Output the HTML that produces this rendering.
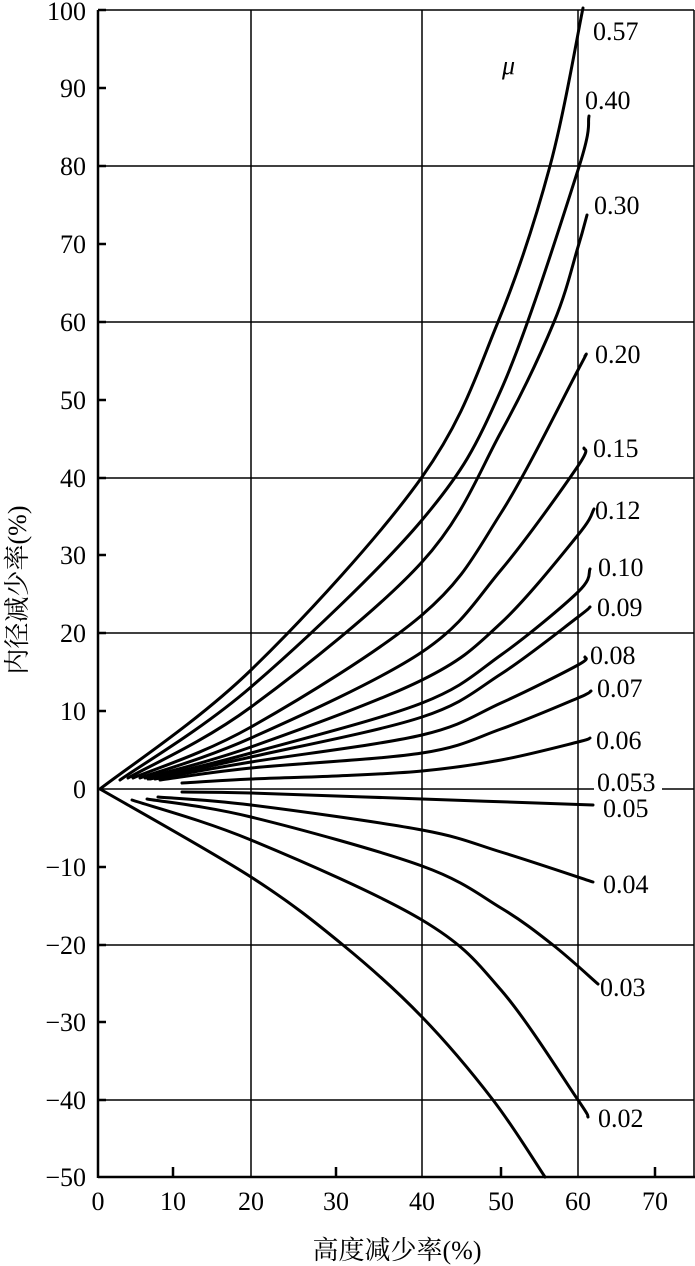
<!DOCTYPE html>
<html><head><meta charset="utf-8"><style>
body{margin:0;background:#fff}
svg{display:block}
text{font-family:"Liberation Serif","Noto Serif CJK SC",serif;font-size:26px;fill:#000}
</style></head><body>
<svg width="695" height="1266" viewBox="0 0 695 1266" xmlns="http://www.w3.org/2000/svg">
<g stroke="#000" stroke-width="1.5" fill="none">
<line x1="100" y1="10" x2="694" y2="10"/>
<line x1="100" y1="166" x2="694" y2="166"/>
<line x1="100" y1="322" x2="694" y2="322"/>
<line x1="100" y1="478" x2="694" y2="478"/>
<line x1="100" y1="633" x2="694" y2="633"/>
<line x1="100" y1="789" x2="694" y2="789"/>
<line x1="100" y1="945" x2="694" y2="945"/>
<line x1="100" y1="1100" x2="694" y2="1100"/>
<line x1="251" y1="10" x2="251" y2="1177"/>
<line x1="422" y1="10" x2="422" y2="1177"/>
<line x1="578" y1="10" x2="578" y2="1177"/>
<line x1="694" y1="10" x2="694" y2="1177"/>
</g>
<g stroke="#000" stroke-width="2.5" fill="none">
<line x1="98" y1="10" x2="98" y2="1178"/>
<line x1="98" y1="1177" x2="695" y2="1177"/>
<path d="M98 88h8M98 244h8M98 400h8M98 555h8M98 711h8M98 867h8M98 1022h8M98 10h8M98 166h8M98 322h8M98 478h8M98 633h8M98 945h8M98 1100h8M173 1177v-10M336 1177v-10M501 1177v-10M655 1177v-10"/>
</g>
<g id="curves" stroke="#000" stroke-width="3" fill="none" stroke-linejoin="round" stroke-linecap="round">
<polyline points="100,789 251,670 422,477 498,322 550,166 583,8"/>
<polyline points="120,780 251,687 422,520 501,390 578,170 589,116"/>
<polyline points="128,778 251,707 422,562 501,432 554,322 578,247 587,215"/>
<polyline points="133,778 251,727 422,615 501,513 578,370 585,356"/>
<polyline points="140,778 251,738 422,652 501,570 578,466 584,448"/>
<polyline points="145,778 251,747 422,680 501,623 578,535 594,509"/>
<polyline points="148,779 251,753 422,703 501,655 578,592 590,569"/>
<polyline points="150,779 251,757 422,717 501,674 578,617 590,607"/>
<polyline points="155,779 251,762 422,735 501,703 578,665 585,657"/>
<polyline points="160,780 251,768 422,753 501,729 578,698 591,691"/>
<polyline points="182,783 251,779 336,776 422,771 501,760 578,742 590,738"/>
<polyline points="182,792 251,793 422,799 593,805"/>
<polyline points="158,797 251,805 422,830 501,852 593,882"/>
<polyline points="147,799 251,817 422,866 501,908 553,945 598,984"/>
<polyline points="132,800 251,840 422,920 501,990 578,1100 588,1117"/>
<polyline points="100,789 251,877 343,945 422,1017 493,1100 545,1177"/>
</g>
<g text-anchor="end">
<text x="86" y="20">100</text><text x="86" y="97">90</text><text x="86" y="175">80</text><text x="86" y="253">70</text><text x="86" y="331">60</text><text x="86" y="409">50</text><text x="86" y="487">40</text><text x="86" y="564">30</text><text x="86" y="642">20</text><text x="86" y="720">10</text><text x="86" y="798">0</text><text x="86" y="876">−10</text><text x="86" y="954">−20</text><text x="86" y="1031">−30</text><text x="86" y="1109">−40</text><text x="86" y="1186">−50</text>
</g>
<g text-anchor="middle">
<text x="98" y="1210">0</text><text x="173" y="1210">10</text><text x="251" y="1210">20</text><text x="336" y="1210">30</text><text x="422" y="1210">40</text><text x="501" y="1210">50</text><text x="578" y="1210">60</text><text x="655" y="1210">70</text>
<text x="397" y="1259">高度减少率(%)</text>
</g>
<text transform="translate(26,590) rotate(-90)" text-anchor="middle">内径减少率(%)</text>
<text x="502" y="74" font-style="italic" font-size="22">μ</text>
<rect x="594" y="776" width="68" height="22" fill="#fff"/>
<g>
<text x="593" y="40">0.57</text><text x="585" y="109">0.40</text><text x="594" y="214">0.30</text><text x="595" y="363">0.20</text><text x="593" y="457">0.15</text><text x="595" y="519">0.12</text><text x="598" y="576">0.10</text><text x="597" y="616">0.09</text><text x="590" y="664">0.08</text><text x="597" y="697">0.07</text><text x="596" y="749">0.06</text><text x="597" y="791">0.053</text><text x="603" y="817">0.05</text><text x="603" y="893">0.04</text><text x="600" y="996">0.03</text><text x="598" y="1127">0.02</text>
</g>
</svg>
<script>
document.querySelectorAll('#curves polyline').forEach(function(pl){
 var p=pl.getAttribute('points').trim().split(/\s+/).map(function(s){return s.split(',').map(Number);});
 var d='M'+p[0][0]+' '+p[0][1];
 for(var i=0;i<p.length-1;i++){
  var p0=p[i>0?i-1:0],p1=p[i],p2=p[i+1],p3=p[i+2<p.length?i+2:i+1];
  var c1x=p1[0]+(p2[0]-p0[0])/6,c1y=p1[1]+(p2[1]-p0[1])/6;
  var c2x=p2[0]-(p3[0]-p1[0])/6,c2y=p2[1]-(p3[1]-p1[1])/6;
  d+=' C'+c1x+' '+c1y+' '+c2x+' '+c2y+' '+p2[0]+' '+p2[1];
 }
 var path=document.createElementNS('http://www.w3.org/2000/svg','path');
 path.setAttribute('d',d);
 pl.parentNode.replaceChild(path,pl);
});
</script>
</body></html>
